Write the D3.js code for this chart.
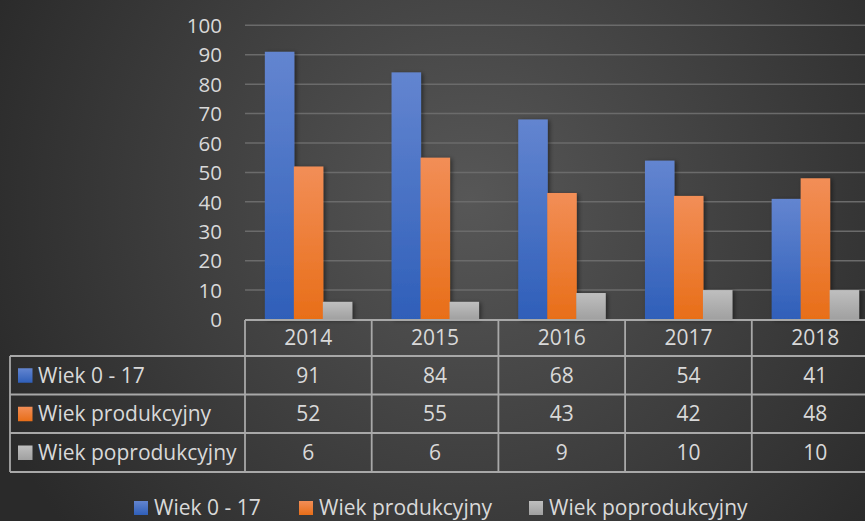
<!DOCTYPE html>
<html><head><meta charset="utf-8">
<script src="https://cdn.jsdelivr.net/npm/d3@7"></script>
<style>html,body{margin:0;padding:0;background:#333;overflow:hidden}svg{display:block}</style>
</head><body>
<script>
const years = ["2014","2015","2016","2017","2018"];
const seriesNames = ["Wiek 0 - 17","Wiek produkcyjny","Wiek poprodukcyjny"];
const wiek017 = [91,84,68,54,41];
const wiekProd = [52,55,43,42,48];
const wiekPoprod = [6,6,9,10,10];
const yTicks = [0,10,20,30,40,50,60,70,80,90,100];
const seriesValues = [wiek017, wiekProd, wiekPoprod];

const W=865,H=521;
const font="'Open Sans', sans-serif";
const txt="#d9d9d9";
const svg=d3.select("body").append("svg").attr("width",W).attr("height",H);
const defs=svg.append("defs");
const bg=defs.append("radialGradient").attr("id","bg").attr("gradientUnits","userSpaceOnUse")
  .attr("cx",470).attr("cy",200).attr("r",520);
bg.append("stop").attr("offset","0").attr("stop-color","#575757");
bg.append("stop").attr("offset","1").attr("stop-color","#2a2a2a");
svg.append("rect").attr("width",W).attr("height",H).attr("fill","url(#bg)");

const cols=[["#6385d0","#2f5fb9"],["#f28e57","#e86e18"],["#bfbfbf","#a0a0a0"]];
cols.forEach((c,i)=>{
  const g=defs.append("linearGradient").attr("id","g"+i).attr("x1",0).attr("y1",0).attr("x2",0).attr("y2",1);
  g.append("stop").attr("offset","0").attr("stop-color",c[0]);
  g.append("stop").attr("offset","1").attr("stop-color",c[1]);
});
const sh=defs.append("filter").attr("id","sh").attr("x","-20%").attr("y","-5%").attr("width","150%").attr("height","115%");
sh.append("feDropShadow").attr("dx",2).attr("dy",1).attr("stdDeviation",2).attr("flood-color","#000").attr("flood-opacity",0.45);

const y=d3.scaleLinear().domain([0,100]).range([319.5,25.3]);
const x0=d3.scaleBand().domain(years).range([245,878.5]);
const x1=d3.scaleBand().domain(seriesNames).range([0,x0.bandwidth()]).paddingInner(0).paddingOuter(0.685);

// gridlines
svg.append("g").selectAll("line").data(yTicks.filter(t=>t>0)).join("line")
  .attr("x1",245).attr("x2",W).attr("y1",d=>y(d)).attr("y2",d=>y(d))
  .attr("stroke","#6b6b6b").attr("stroke-width",1.5);

// y axis labels
const yAxis=d3.axisLeft(y).tickValues(yTicks).tickSize(0).tickPadding(0);
const ya=svg.append("g").attr("transform","translate(222,0)").call(yAxis);
ya.select(".domain").remove();
ya.selectAll("text").attr("font-family",font).attr("font-size",20.5).attr("fill",txt).attr("dy","0.35em");

// bars
const bars=svg.append("g").attr("filter","url(#sh)");
seriesNames.forEach((s,i)=>{
  bars.append("g").selectAll("rect").data(seriesValues[i]).join("rect")
    .attr("x",(d,j)=>x0(years[j])+x1(s)).attr("width",x1.bandwidth()+0.5)
    .attr("y",d=>y(d)).attr("height",d=>y(0)-y(d))
    .attr("fill","url(#g"+i+")");
});

// data table
const lc="#a8a8a8", lw=1.8;
const rowY=[320,356,394.5,433,472];
const tb=svg.append("g").attr("stroke",lc).attr("stroke-width",lw).attr("fill","none");
tb.append("line").attr("x1",245).attr("x2",W+5).attr("y1",rowY[0]).attr("y2",rowY[0]);
rowY.slice(1).forEach(v=>tb.append("line").attr("x1",10).attr("x2",W+5).attr("y1",v).attr("y2",v));
tb.append("line").attr("x1",10).attr("x2",10).attr("y1",rowY[1]).attr("y2",rowY[4]);
years.forEach(yr=>tb.append("line").attr("x1",x0(yr)).attr("x2",x0(yr)).attr("y1",rowY[0]).attr("y2",rowY[4]));

const tt=svg.append("g").attr("font-family",font).attr("font-size",21).attr("fill",txt);
tt.selectAll("text.h").data(years).join("text").attr("class","h")
  .attr("x",d=>x0(d)+x0.bandwidth()/2).attr("y",(rowY[0]+rowY[1])/2).attr("dy","0.35em")
  .attr("text-anchor","middle").text(d=>d);
seriesNames.forEach((s,i)=>{
  const cy=(rowY[i+1]+rowY[i+2])/2;
  svg.append("rect").attr("x",18).attr("y",cy-7).attr("width",14.5).attr("height",14.5).attr("fill","url(#g"+i+")");
  tt.append("text").attr("x",38).attr("y",cy).attr("dy","0.35em").text(s);
  tt.append("g").selectAll("text").data(seriesValues[i]).join("text")
    .attr("x",(d,j)=>x0(years[j])+x0.bandwidth()/2).attr("y",cy).attr("dy","0.35em")
    .attr("text-anchor","middle").text(d=>d);
});

// bottom legend
const legX=[134,299,529];
const lg=svg.append("g").attr("font-family",font).attr("font-size",21).attr("fill",txt);
seriesNames.forEach((s,i)=>{
  svg.append("rect").attr("x",legX[i]).attr("y",501).attr("width",14).attr("height",14).attr("fill","url(#g"+i+")");
  lg.append("text").attr("x",legX[i]+20).attr("y",508).attr("dy","0.35em").text(s);
});
</script>
</body></html>
